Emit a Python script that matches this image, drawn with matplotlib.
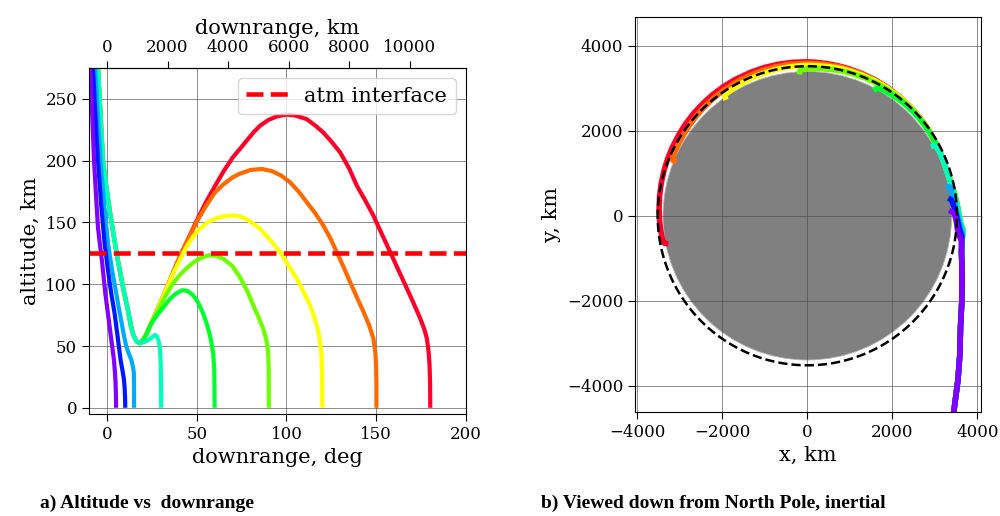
import numpy as np
import matplotlib
matplotlib.use("Agg")
import matplotlib.pyplot as plt
from matplotlib.patches import Circle

R_MARS = 3396.2      # km
ATM_INTERFACE = 125  # km

# landing downrange of each trajectory, deg
TARGET_DEG = [5, 10, 15, 30, 60, 90, 120, 150, 180]

# shared hyperbolic approach above the plotted altitude range
APPROACH_DEG = [-53.5, -47.5, -42.5, -36.0, -29.0, -23.0, -18.0, -13.5]
APPROACH_ALT = [2390, 1850, 1470, 1060, 760, 560, 430, 335]

# common descent of the bouncing trajectories (cyan and beyond)
DESCENT_DEG = [-5.0, -3.5, -2.2, -0.3, 1.5, 3.8, 6.1, 8.9, 11.7, 13.4, 14.8, 16.5, 18.2,
               20.0, 22.0, 23.8]
DESCENT_ALT = [275, 235, 200, 178, 160, 139, 119, 98, 78.8, 66, 58.5, 53.8, 52.2,
               54.5, 59.5, 65.6]

dr_005 = [-9.3, -8.2, -7.2, -6.1, -5.0, -3.9, -2.8, -0.9, 0.3, 1.5, 2.7, 3.9, 4.5, 4.8, 5.0, 5.1]
alt_005 = [275, 237, 200, 172, 146, 132, 119, 92.5, 79, 65.6, 52, 38.7, 28, 20, 10, 0]

dr_010 = [-7.8, -6.4, -5.0, -3.2, -1.3, 0.6, 2.4, 4.3, 6.0, 7.6, 8.8, 9.5, 9.9, 10.1, 10.2]
alt_010 = [275, 236, 200, 164, 133, 111, 92.5, 76, 57, 38.7, 29, 22.6, 15, 8, 0]

dr_015 = [-6.5, -5.0, -3.5, -1.5, 0.6, 2.9, 5.2, 6.7, 8.0, 9.4, 10.8, 12.3, 13.6, 14.5, 15.0,
          15.1, 15.1]
alt_015 = [275, 236, 200, 164, 133, 111, 92.5, 80, 70, 59, 49.4, 43.5, 38.7, 33, 28, 15, 0]

dr_030 = [20.5, 22.9, 25.0, 26.6, 27.8, 28.8, 29.4, 29.9, 30.1, 30.2]
alt_030 = [53, 54.8, 57, 58.9, 58, 54, 49.4, 38, 25, 0]

dr_060 = [26, 29, 32, 35, 38, 41.9, 45, 48, 50.5, 53.6, 56, 57.8, 59.2, 59.8, 60.0]
alt_060 = [71, 77, 82.5, 88, 92, 95.2, 94.5, 91, 86, 76.4, 66, 56, 44, 30, 0]

dr_090 = [28, 32, 36, 40, 44, 48, 52, 56.4, 61, 65, 70, 74, 78, 81.5, 84.5, 87, 88.8, 89.8,
          90.1, 90.2]
alt_090 = [78, 89, 99, 106.5, 112.5, 117.5, 121, 123.4, 123, 120.5, 114.5, 105.9, 95, 83.1,
           73, 64.2, 55, 45.4, 30, 0]

dr_120 = [27, 30, 33, 36, 40, 44, 48, 51.7, 56, 61, 66, 71.3, 74, 78, 82, 85.2, 89, 92.5, 96.4,
          99.5, 102.5, 105.7, 109.5, 113.1, 115.8, 117.8, 119.0, 119.6, 119.9, 120.0]
alt_120 = [76, 86, 96, 106, 118, 129.5, 138.5, 145, 150, 153.5, 155.3, 155.6, 155, 152.5, 148.5,
           144.9, 139, 133, 126, 119, 112, 104.6, 94, 83.1, 72, 61.5, 50, 40, 25, 0]

dr_150 = [27, 30, 33, 36, 39, 42, 45, 50, 55, 60, 65, 70, 74, 80, 86.2, 92, 97, 102, 106.5,
          111.3, 116, 120.5, 124.5, 128, 131.8, 135.4, 139.2, 142.9, 146, 148.4, 149.5, 149.9,
          150.1, 150.1]
alt_150 = [76, 86, 96, 106.5, 117, 127, 136, 150.5, 163, 174, 181, 186.5, 189.5, 192.5, 193.3,
           191.5, 188, 182.5, 175.5, 166.4, 157.5, 147.6, 137, 126, 114, 101.9, 89.5, 77.7, 67,
           56.2, 45, 34.7, 20, 0]

dr_180 = [27, 30, 33, 36, 39, 41.5, 45, 50, 55, 60, 65, 70, 74, 78, 82, 85.2, 90, 95, 100, 105,
          111.3, 116, 120.5, 125, 129.9, 135, 139.2, 144, 148.4, 153, 157.8, 162.5, 167.1, 171,
          174.5, 176.8, 178.2, 179.2, 179.7, 180.0, 180.1]
alt_180 = [76, 86, 96, 106.5, 117, 125, 136, 151.5, 166, 179, 191.5, 202.5, 209.4, 216.5, 223.5,
           228.2, 233, 236, 237.3, 236.5, 233.6, 228.5, 222.8, 215.5, 206.7, 193.5, 179.8, 167.5,
           155.6, 141, 126, 111, 96.5, 84, 72.3, 63.5, 56.2, 45, 34.7, 20, 0]

# extra inertial longitude gained by the landing point (planet rotation), deg
END_SHIFT_DEG = [-3.5, -3.7, -3.5, -1.2, 1.6, 2.8, 4.8, 7.5, 11.0]


def build_tracks():
    own = [(dr_005, alt_005), (dr_010, alt_010), (dr_015, alt_015)]
    tracks = []
    for dr, alt in own:
        tracks.append((APPROACH_DEG + dr, APPROACH_ALT + alt))
    bounce = [(dr_030, alt_030), (dr_060, alt_060), (dr_090, alt_090),
              (dr_120, alt_120), (dr_150, alt_150), (dr_180, alt_180)]
    for i, (dr, alt) in enumerate(bounce):
        # cyan leaves the common descent right after the minimum
        n = 13 if i == 0 else len(DESCENT_DEG)
        tracks.append((APPROACH_DEG + DESCENT_DEG[:n] + dr, APPROACH_ALT + DESCENT_ALT[:n] + alt))
    return tracks


def deg2km(d):
    return d * np.pi / 180 * R_MARS


def km2deg(k):
    return k / R_MARS * 180 / np.pi


if __name__ == '__main__':
    matplotlib.rcParams['font.family'] = 'DejaVu Serif'
    fig = plt.figure(figsize=(10, 5.16), dpi=100)
    ax1 = fig.add_axes([0.089, 0.1977, 0.377, 0.6705])
    ax2 = fig.add_axes([0.635, 0.2016, 0.346, 0.7655])

    tracks = build_tracks()
    colors = plt.cm.gist_rainbow(np.linspace(0.86, 0.0, len(tracks)))
    grid_kw = dict(color='0.3', linewidth=0.7, alpha=0.65)

    # ---- a) altitude vs downrange
    for k in reversed(range(len(tracks))):
        dr, alt = tracks[k]
        ax1.plot(dr, alt, color=colors[k], lw=3, solid_capstyle='butt')
    ax1.axhline(ATM_INTERFACE, color='red', ls='--', lw=3.3, label='atm interface')
    ax1.set_xlim(-10, 200)
    ax1.set_ylim(-5, 275)
    ax1.set_xticks([0, 50, 100, 150, 200])
    ax1.set_yticks([0, 50, 100, 150, 200, 250])
    ax1.grid(**grid_kw)
    ax1.tick_params(labelsize=12, length=5)
    ax1.set_xlabel('downrange, deg', fontsize=15)
    ax1.set_ylabel('altitude, km', fontsize=15)
    ax1.legend(loc='upper right', fontsize=15)
    top = ax1.secondary_xaxis('top', functions=(deg2km, km2deg))
    top.set_xticks([0, 2000, 4000, 6000, 8000, 10000])
    top.tick_params(labelsize=12, length=5)
    top.set_xlabel('downrange, km', fontsize=15)

    # ---- b) viewed from north pole
    ax2.add_patch(Circle((0, 0), R_MARS, facecolor='gray', edgecolor='#b4b4b4', lw=0.6))
    for k in reversed(range(len(tracks))):
        dr, alt = np.array(tracks[k][0]), np.array(tracks[k][1])
        frac = np.clip(dr / TARGET_DEG[k], 0, 1)
        th = np.radians(dr + END_SHIFT_DEG[k] * frac)
        r = R_MARS + alt
        ax2.plot(r * np.cos(th), r * np.sin(th), color=colors[k], lw=4, solid_capstyle='projecting')
    ring = np.linspace(0, 2 * np.pi, 400)
    ax2.plot((R_MARS + ATM_INTERFACE) * np.cos(ring), (R_MARS + ATM_INTERFACE) * np.sin(ring),
             'k--', lw=1.8, zorder=3)
    ax2.set_xlim(-4055, 4087)
    ax2.set_ylim(-4620, 4680)
    ax2.set_xticks([-4000, -2000, 0, 2000, 4000])
    ax2.set_yticks([-4000, -2000, 0, 2000, 4000])
    ax2.grid(**grid_kw)
    ax2.tick_params(labelsize=12, length=5)
    ax2.set_xlabel('x, km', fontsize=15)
    ax2.set_ylabel('y, km', fontsize=15)

    fig.text(0.040, 0.025, 'a) Altitude vs  downrange', family='Liberation Serif',
             weight='bold', fontsize=14, va='center')
    fig.text(0.541, 0.025, 'b) Viewed down from North Pole, inertial', family='Liberation Serif',
             weight='bold', fontsize=14, va='center')

    fig.savefig('out.png', dpi=100)
